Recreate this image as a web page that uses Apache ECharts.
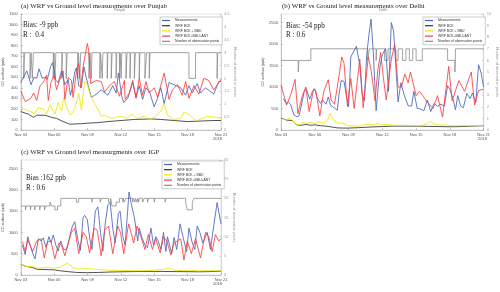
<!DOCTYPE html>
<html><head><meta charset="utf-8">
<script src="https://cdn.jsdelivr.net/npm/echarts@6/dist/echarts.min.js"></script>
<style>html,body{margin:0;padding:0;background:#fff}#c{width:500px;height:292px}</style>
</head><body><div id="c"></div>
<script>
const xTickLabels = ['Nov 03','Nov 06','Nov 09','Nov 12','Nov 15','Nov 18','Nov 21'];
const seriesNames = ['Measurements','WRF BCK','WRF BCK + BBU','WRF BCK+BBU+ANT','Number of observation points'];
const titles = ['(a) WRF vs Ground level measurements over Punjab','(b) WRF vs Ground level measurements over Delhi','(c) WRF vs Ground level measurgments over IGP'];
const biasTexts = ['Bias: -9 ppb','Bias: -54 ppb','Bias :162 ppb'];
const rTexts = ['R :  0.4','R : 0.6','R : 0.6'];

// Panel (a) Punjab: [day since Nov 03, ppb]
const punjabMeas = [[0,450],[0.54,560],[0.92,430],[1.19,500],[1.43,490],[1.64,580],[1.93,490],[2.17,500],[2.38,480],[2.68,600],[2.86,640],[3.15,470],[3.36,450],[3.66,560],[3.96,430],[4.26,480],[4.46,330],[4.64,400],[4.85,550],[5.0,590],[5.21,420],[5.45,400],[5.68,600],[5.83,520],[6.04,430],[6.34,310],[6.79,340],[7.23,380],[7.83,330],[8.27,420],[8.57,350],[8.78,540],[9.08,320],[9.26,260],[9.61,300],[10.06,450],[10.36,310],[10.65,420],[10.95,290],[11.25,400],[11.55,370],[11.99,220],[12.29,300],[12.59,400],[12.89,250],[13.33,450],[13.78,430],[14.38,400],[14.82,330],[15.12,420],[15.42,350],[15.86,440],[16.16,350],[16.61,400],[17.35,340],[17.8,460],[18,460]];
const punjabBck = [[0,175],[0.68,150],[1.13,120],[1.43,140],[2.17,140],[2.77,120],[3.21,110],[3.81,80],[4.4,55],[5.45,60],[6.04,65],[6.93,70],[7.83,80],[9.02,90],[10.21,100],[11.7,105],[12.59,100],[13.78,90],[14.97,80],[16.16,85],[17.35,90],[18,90]];
const punjabBbu = [[0,230],[0.3,200],[0.7,180],[0.83,190],[1.28,160],[1.58,210],[2.02,200],[2.32,150],[2.62,240],[3.06,150],[3.36,260],[3.66,180],[3.87,310],[4.11,220],[4.46,140],[4.85,200],[5.21,350],[5.45,190],[5.74,460],[5.98,430],[6.19,350],[6.64,250],[6.93,200],[7.23,130],[7.53,140],[8.12,110],[8.57,120],[9.02,130],[9.61,110],[9.91,150],[10.51,110],[11.1,130],[11.55,100],[11.99,120],[12.59,180],[12.89,250],[13.19,140],[13.78,100],[14.38,110],[14.67,170],[15.12,150],[15.57,100],[15.86,90],[16.76,130],[17.65,120],[18,110]];
const punjabAnt = [[0,370],[0.4,270],[0.9,300],[1.15,350],[1.43,280],[1.73,420],[2.02,450],[2.32,520],[2.47,280],[2.71,450],[3.0,520],[3.21,380],[3.51,480],[3.81,560],[3.96,290],[4.26,500],[4.55,470],[4.7,310],[5.0,550],[5.21,630],[5.39,400],[5.6,600],[5.98,820],[6.1,760],[6.28,440],[6.79,470],[7.23,460],[7.53,360],[7.98,420],[8.42,460],[8.87,320],[9.32,470],[9.38,290],[9.76,350],[10.06,470],[10.36,300],[10.65,490],[10.95,330],[11.25,460],[11.55,350],[11.99,400],[12.29,310],[12.89,540],[13.33,290],[13.63,380],[14.08,430],[14.52,330],[14.82,460],[15.12,300],[15.57,420],[16.01,340],[16.46,490],[16.9,470],[17.35,380],[18,480]];
const punjabObs = [[0,3],[0.27,2],[0.33,3],[0.83,2],[0.92,3],[1.04,2],[1.13,3],[2.92,2],[2.98,3],[3.07,2],[3.15,3],[3.69,2],[3.75,3],[4.08,2],[4.17,3],[5.12,2],[5.18,3],[5.3,2],[5.39,3],[6.13,2],[6.22,3],[6.34,2],[6.4,3],[7.11,2],[7.17,3],[7.32,2],[7.38,3],[7.77,2],[7.83,3],[8.13,2],[8.21,3],[8.57,2],[8.63,3],[8.87,2],[8.93,3],[9.02,2],[9.08,3],[9.46,2],[9.55,3],[9.82,2],[9.88,3],[10.21,2],[10.3,3],[10.65,2],[10.71,3],[11.16,2],[11.31,3],[11.55,2],[11.61,3],[15.12,2],[15.71,3],[17.65,2],[17.71,3],[18,3]];

// Panel (b) Delhi
const delhiMeas = [[0.2,730],[0.45,620],[0.65,650],[0.85,600],[1.15,350],[1.4,310],[1.6,330],[1.8,560],[2.05,880],[2.25,960],[2.55,720],[2.8,900],[3.0,960],[3.2,750],[3.5,620],[3.7,700],[4.0,600],[4.2,770],[4.4,580],[4.7,520],[5.0,460],[5.15,820],[5.35,1150],[5.6,1130],[5.8,800],[6.0,540],[6.2,1700],[6.7,1950],[7.0,1500],[7.2,850],[7.4,680],[7.6,1700],[7.8,2200],[8.0,2580],[8.2,1800],[8.45,450],[8.8,1500],[9.0,1750],[9.3,1900],[9.55,900],[9.8,2500],[10.0,2300],[10.2,1500],[10.4,650],[10.65,1100],[10.9,850],[11.1,700],[11.3,560],[11.6,560],[11.8,900],[12.1,500],[12.4,490],[12.7,450],[13.0,700],[13.3,430],[13.6,620],[13.9,550],[14.2,600],[14.5,560],[14.8,1030],[15.0,950],[15.3,700],[15.5,470],[15.7,800],[15.95,560],[16.2,520],[16.5,850],[16.8,730],[17.0,860],[17.3,640],[17.55,1520],[17.8,1300],[18,1000]];
const delhiBck = [[0,280],[0.5,230],[1.0,220],[1.4,120],[1.8,110],[2.2,130],[2.6,110],[3.0,120],[3.5,100],[4.0,90],[4.5,70],[5.0,50],[5.5,45],[6.0,45],[6.5,50],[7.0,55],[8.0,70],[9.0,80],[10,90],[11,90],[12,90],[13,85],[14,80],[15,75],[16,80],[17,90],[18,100]];
const delhiBbu = [[0,300],[0.4,230],[0.7,270],[1.0,230],[1.3,140],[1.6,120],[1.9,180],[2.3,150],[2.6,180],[3.0,150],[3.3,190],[3.6,160],[3.9,170],[4.2,260],[4.35,390],[4.7,220],[5.0,170],[5.5,160],[6.0,100],[6.5,90],[7.0,90],[7.4,120],[7.8,130],[8.2,120],[8.6,150],[9.0,120],[9.5,130],[10.0,110],[11,110],[12,100],[12.5,100],[13.0,150],[13.3,200],[13.6,140],[14,110],[14.5,120],[15,100],[16,100],[17,100],[18,110]];
const delhiAnt = [[0,1050],[0.5,580],[0.9,850],[1.25,1180],[1.5,380],[1.9,800],[2.2,1000],[2.5,430],[2.9,950],[3.1,900],[3.45,330],[3.8,900],[4.2,1170],[4.45,700],[4.75,600],[5.0,1000],[5.4,1700],[5.6,1550],[5.9,550],[6.2,1200],[6.5,500],[7.0,1650],[7.3,520],[7.75,1700],[8.0,1400],[8.35,680],[8.6,1400],[8.85,1800],[9.1,1200],[9.35,700],[9.8,1650],[10.1,2000],[10.4,1000],[10.7,1000],[11.0,1300],[11.3,1100],[11.5,1350],[12.0,800],[12.3,900],[12.6,800],[13.0,650],[13.5,500],[13.9,800],[14.35,300],[14.9,1480],[15.2,680],[15.8,1150],[16.3,900],[16.9,1350],[17.2,580],[17.55,920],[18,950]];
const delhiObs = [[0,6],[1.53,5],[1.6,6],[2.65,7],[7.7,6],[7.85,7],[8.45,6],[8.5,7],[9.2,6],[9.5,7],[10.2,6],[10.4,7],[10.8,6],[11.1,7],[11.4,6],[11.7,7],[12.0,6],[12.55,7],[14.8,6],[15.45,5],[15.5,7],[18,7]];

// Panel (c) IGP
const igpMeas = [[0.15,700],[0.4,480],[0.63,900],[0.83,700],[1.13,470],[1.28,380],[1.58,850],[1.82,800],[2.02,870],[2.26,650],[2.53,900],[2.71,760],[2.92,940],[3.15,700],[3.36,560],[3.6,800],[3.84,600],[4.11,600],[4.64,1150],[4.85,1250],[5.15,800],[5.36,580],[5.6,1350],[5.74,1400],[5.98,1300],[6.22,820],[6.4,600],[6.7,1500],[6.93,1600],[7.17,1000],[7.38,560],[7.59,1200],[7.83,1650],[8.04,1700],[8.27,1100],[8.48,750],[8.78,1450],[8.93,1500],[9.17,900],[9.38,700],[9.73,1950],[9.91,1700],[10.21,1350],[10.51,800],[10.65,1100],[10.86,900],[11.16,700],[11.4,640],[11.7,1100],[11.93,700],[12.14,900],[12.35,800],[12.59,600],[12.83,1000],[13.04,550],[13.19,900],[13.57,500],[13.78,880],[14.02,600],[14.32,1200],[14.58,900],[14.91,550],[15.12,1100],[15.42,750],[15.65,600],[15.86,1150],[16.1,1000],[16.37,750],[16.76,1000],[17.05,600],[17.65,1700],[18,1200]];
const igpBck = [[0,250],[0.5,200],[1,180],[1.5,130],[2,130],[3,120],[3.5,100],[4.2,80],[5,60],[6,55],[7,60],[8,70],[10,80],[12,85],[14,80],[16,75],[17,80],[18,90]];
const igpBbu = [[0,250],[0.5,200],[1,200],[1.5,160],[2,170],[2.5,180],[3,160],[3.5,180],[4.2,280],[4.7,170],[5.2,140],[6,150],[7,130],[8,110],[9,110],[10,100],[11,100],[12,110],[12.8,130],[13.3,170],[13.8,110],[15,110],[16,100],[17,100],[18,100]];
const igpAnt = [[0.15,780],[0.4,550],[0.63,820],[0.83,700],[1.07,550],[1.43,800],[1.82,850],[2.11,400],[2.41,780],[2.71,800],[3.06,380],[3.42,750],[3.66,700],[3.96,450],[4.55,1000],[4.85,1100],[5.21,500],[5.6,1000],[5.89,900],[6.19,520],[6.58,1100],[6.87,1050],[7.23,450],[7.53,1050],[7.89,1150],[8.27,500],[8.72,1150],[8.96,1000],[9.26,500],[9.7,1200],[9.91,1000],[10.15,750],[10.45,1150],[10.8,900],[11.16,600],[11.46,950],[11.84,600],[12.14,850],[12.53,520],[12.83,900],[13.13,800],[13.48,470],[13.78,750],[14.38,850],[14.67,350],[14.97,800],[15.33,500],[15.71,850],[16.16,400],[16.61,1000],[16.9,900],[17.2,550],[17.5,950],[17.8,800],[18,850]];
const igpObs = [[0,18],[0.42,17],[0.48,18],[0.87,17],[0.93,18],[1.25,17],[1.31,18],[1.7,17],[1.76,18],[2.14,17],[2.2,18],[2.62,19],[2.77,18],[3.07,17],[3.3,18],[3.6,20],[5.0,19],[5.2,20],[6.4,19],[6.46,20],[7.14,19],[7.23,20],[7.89,19],[8.07,20],[8.2,18],[8.57,19],[8.87,20],[9.17,19],[9.22,20],[9.3,19],[9.46,20],[10.06,19],[10.12,20],[10.25,19],[10.32,20],[10.45,19],[10.52,20],[10.6,19],[10.65,20],[10.95,19],[11.1,20],[11.4,19],[11.45,20],[12.0,19],[12.05,20],[12.98,19],[13.03,20],[14.82,19],[14.97,17],[15.42,19],[15.57,20],[18,20]];

const leftMax = [1100, 2700, 2700];
const leftInterval = [100, 500, 500];
const rightMax = [4.5, 10, 30];
const rightInterval = [0.5, 1, 5];

const panelData = [
  [punjabMeas, punjabBck, punjabBbu, punjabAnt, punjabObs],
  [delhiMeas, delhiBck, delhiBbu, delhiAnt, delhiObs],
  [igpMeas, igpBck, igpBbu, igpAnt, igpObs]
];
const colors = ['#4a63b5', '#333333', '#f2e600', '#ff3b3b', '#8c8c8c'];

const grids = [
  {left:19, top:14, width:202, height:116},
  {left:281, top:14, width:204, height:116},
  {left:19, top:160, width:202, height:115}
];
const legendPos = [{left:160, top:17},{left:423, top:17},{left:162, top:161}];

const grid = grids.map(g => Object.assign({show:true, borderColor:'#c8c8c8', borderWidth:0.5, backgroundColor:'#fff'}, g));
const xAxis = [], yAxis = [], series = [], legend = [], graphic = [];
const lblStyle = {fontSize:4, color:'#555', fontFamily:'Liberation Sans'};
for (let i = 0; i < 3; i++) {
  xAxis.push({type:'value', gridIndex:i, min:0, max:18, interval:3,
    axisLine:{lineStyle:{color:'#999', width:0.5}}, axisTick:{inside:true, length:2, lineStyle:{color:'#999', width:0.5}},
    splitLine:{show:false},
    axisLabel:Object.assign({margin:3, formatter: v => xTickLabels[Math.round(v/3)]}, lblStyle)});
  yAxis.push({type:'value', gridIndex:i, min:0, max:leftMax[i], interval:leftInterval[i], position:'left',
    name:'CO surface (ppb)', nameLocation:'middle', nameGap:12, nameTextStyle:{fontSize:3.8, color:'#444'},
    axisLine:{show:true, lineStyle:{color:'#999', width:0.5}}, axisTick:{show:true, inside:true, length:2, lineStyle:{color:'#999', width:0.5}},
    splitLine:{show:false},
    axisLabel:Object.assign({margin:3, showMaxLabel: leftMax[i] % leftInterval[i] === 0, formatter: v => String(v)}, lblStyle)});
  yAxis.push({type:'value', gridIndex:i, min:0, max:rightMax[i], interval:rightInterval[i], position:'right',
    name:'Number of observation points', nameLocation:'middle', nameGap:10, nameRotate:-90, nameTextStyle:{fontSize:3.8, color:'#999'},
    axisLine:{show:true, lineStyle:{color:'#bbb', width:0.5}}, axisTick:{show:true, inside:true, length:2, lineStyle:{color:'#bbb', width:0.5}},
    splitLine:{show:false},
    axisLabel:{margin:3, fontSize:4, color:'#999', fontFamily:'Liberation Sans', formatter: v => String(v)}});
  const d = panelData[i];
  series.push({name:seriesNames[4], type:'line', xAxisIndex:i, yAxisIndex:2*i+1, data:d[4], step:'end', showSymbol:false,
    lineStyle:{color:colors[4], width:0.8}, itemStyle:{color:colors[4]}, z:1});
  for (let k = 0; k < 4; k++) {
    series.push({name:seriesNames[k], type:'line', xAxisIndex:i, yAxisIndex:2*i, data:d[k], showSymbol:false,
      lineStyle:{color:colors[k], width:0.85}, itemStyle:{color:colors[k]}, z:2+k});
  }
  legend.push(Object.assign({orient:'vertical', data:seriesNames, icon:'rect', itemWidth:8, itemHeight:1.2, itemGap:2.2,
    padding:[2,3,2,2], borderColor:'#999', borderWidth:0.5, backgroundColor:'#fff',
    textStyle:{fontSize:3.4, color:'#333', fontFamily:'Liberation Sans'}, selectedMode:false, z:20}, legendPos[i]));
}
const titlePos = [[21,7],[282,7],[21,153]];
const biasPos = [[23,26],[286,27],[26,179]];
const rPos = [[23,36],[286,36],[26,189]];
const yearPos = [[213,139],[478,139],[213,284]];
for (let i = 0; i < 3; i++) {
  graphic.push({type:'text', left:titlePos[i][0], top:titlePos[i][1]-4.3, style:{text:titles[i], fontSize:6.9, fill:'#222', fontFamily:'Liberation Serif'}});
  graphic.push({type:'text', left:biasPos[i][0], top:biasPos[i][1]-4.5, style:{text:biasTexts[i], fontSize:7.2, fill:'#222', fontFamily:'Liberation Serif'}, z:30});
  graphic.push({type:'text', left:rPos[i][0], top:rPos[i][1]-4.5, style:{text:rTexts[i], fontSize:7.2, fill:'#222', fontFamily:'Liberation Serif'}, z:30});
  graphic.push({type:'text', left:yearPos[i][0], top:yearPos[i][1]-2, style:{text:'2018', fontSize:4, fill:'#555', fontFamily:'Liberation Sans'}});
}
graphic.push({type:'text', left:114, top:8, style:{text:'Punjab', fontSize:3.5, fill:'#777', fontFamily:'Liberation Sans'}});
graphic.push({type:'text', left:379, top:8, style:{text:'Delhi', fontSize:3.5, fill:'#777', fontFamily:'Liberation Sans'}});

const chart = echarts.init(document.getElementById('c'), null, {renderer:'canvas'});
chart.setOption({animation:false, backgroundColor:'#fff', grid, xAxis, yAxis, series, legend, graphic});
</script></body></html>
